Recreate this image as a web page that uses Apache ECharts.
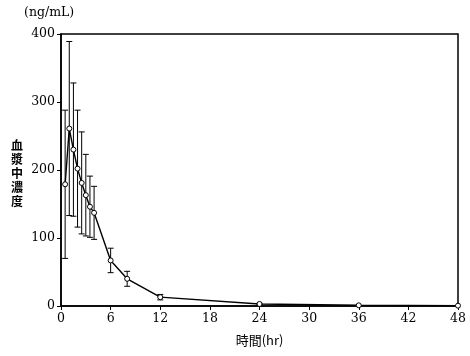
<!DOCTYPE html>
<html>
<head>
<meta charset="utf-8">
<script src="https://cdn.jsdelivr.net/npm/echarts@6/dist/echarts.min.js"></script>
<style>html,body{margin:0;padding:0;background:#fff;}#c{width:470px;height:356px;}</style>
</head>
<body>
<div id="c"></div>
<script>
var times = [0.5, 1, 1.5, 2, 2.5, 3, 3.5, 4, 6, 8, 12, 24, 36, 48];
var means = [179, 261, 230, 202, 181, 163, 146, 137, 67, 40, 13, 3, 1, 0.5];
var sds   = [109, 128, 98, 86, 75, 60, 45, 39, 18, 11, 4, 1, 0, 0];
var xTicks = [0, 6, 12, 18, 24, 30, 36, 42, 48];
var yTicks = [0, 100, 200, 300, 400];
var yTitleChars = ['血', '漿', '中', '濃', '度'];

var numFont = 'DejaVu Serif';
var cjkFont = 'Noto Sans CJK JP';

var lineData = times.map(function (t, i) { return [t, means[i]]; });
var errData = [];
times.forEach(function (t, i) {
  if (sds[i] > 0) errData.push([t, means[i] - sds[i], means[i] + sds[i]]);
});

var graphics = [{
  type: 'text', left: 24, top: 6,
  style: {text: '(ng/mL)', font: '12.5px "' + numFont + '"', fill: '#000'}
}];
yTitleChars.forEach(function (ch, i) {
  graphics.push({
    type: 'text', x: 17, y: 145 + i * 14,
    style: {text: ch, font: 'bold 12px "' + cjkFont + '"', fill: '#000', align: 'center', verticalAlign: 'middle'}
  });
});

var chart = echarts.init(document.getElementById('c'), null, {renderer: 'canvas'});
chart.setOption({
  animation: false,
  backgroundColor: '#fff',
  grid: {left: 61, right: 12, top: 34, bottom: 50, show: true, borderColor: '#000', borderWidth: 1.5, backgroundColor: 'transparent'},
  graphic: graphics,
  xAxis: {
    type: 'value', min: xTicks[0], max: xTicks[xTicks.length - 1], interval: 6,
    name: '時間(hr)', nameLocation: 'middle', nameGap: 28,
    nameTextStyle: {fontFamily: cjkFont, fontSize: 13, color: '#000'},
    axisLine: {lineStyle: {color: '#000', width: 1.5}},
    axisTick: {length: 4, lineStyle: {color: '#000', width: 1}},
    axisLabel: {fontFamily: numFont, fontSize: 12.5, color: '#000', margin: 6},
    splitLine: {show: false}
  },
  yAxis: {
    type: 'value', min: yTicks[0], max: yTicks[yTicks.length - 1], interval: 100,
    axisLine: {lineStyle: {color: '#000', width: 1.5}},
    axisTick: {length: 4, lineStyle: {color: '#000', width: 1}},
    axisLabel: {fontFamily: numFont, fontSize: 12.5, color: '#000', margin: 6},
    splitLine: {show: false}
  },
  series: [
    {
      type: 'custom', z: 1, data: errData,
      renderItem: function (params, api) {
        var x = api.value(0), lo = api.value(1), hi = api.value(2);
        var pH = api.coord([x, hi]), pL = api.coord([x, lo]);
        var w = 3;
        var st = {stroke: '#000', lineWidth: 1};
        return {type: 'group', children: [
          {type: 'line', shape: {x1: pH[0], y1: pH[1], x2: pL[0], y2: pL[1]}, style: st},
          {type: 'line', shape: {x1: pH[0] - w, y1: pH[1], x2: pH[0] + w, y2: pH[1]}, style: st},
          {type: 'line', shape: {x1: pL[0] - w, y1: pL[1], x2: pL[0] + w, y2: pL[1]}, style: st}
        ]};
      }
    },
    {
      type: 'line', z: 3, data: lineData,
      symbol: 'circle', symbolSize: 5,
      lineStyle: {color: '#000', width: 1.4},
      itemStyle: {color: '#fff', borderColor: '#000', borderWidth: 1}
    }
  ]
});
</script>
</body>
</html>
